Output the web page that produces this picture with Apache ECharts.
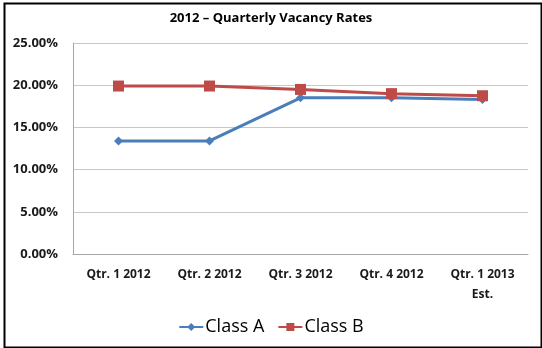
<!DOCTYPE html>
<html><head><meta charset="utf-8">
<script src="https://cdn.jsdelivr.net/npm/echarts@6/dist/echarts.min.js"></script>
<style>html,body{margin:0;padding:0;background:#fff}#c{width:542px;height:348px}</style>
</head><body><div id="c"></div>
<script>
const categories = ['Qtr. 1 2012','Qtr. 2 2012','Qtr. 3 2012','Qtr. 4 2012','Qtr. 1 2013\nEst.'];
const classA = [13.4, 13.4, 18.5, 18.5, 18.3];
const classB = [19.9, 19.9, 19.5, 19.0, 18.75];
const yTicks = [0, 5, 10, 15, 20, 25];
const font = '"Open Sans", "Noto Sans", sans-serif';
const chart = echarts.init(document.getElementById('c'), null, {renderer:'canvas'});
chart.setOption({
  animation:false,
  backgroundColor:'#fff',
  graphic:[{type:'rect',left:2,top:1,shape:{width:537,height:344},style:{fill:'none',stroke:'#000',lineWidth:2},silent:true}],
  title:{text:'2012 – Quarterly Vacancy Rates',left:'center',top:7,textStyle:{fontFamily:font,fontSize:13,fontWeight:'bold',color:'#000'}},
  grid:{left:73,right:14,top:43,bottom:94,containLabel:false},
  xAxis:{type:'category',data:categories,boundaryGap:true,
    axisLine:{lineStyle:{color:'#a6a6a6'}},axisTick:{show:false},
    axisLabel:{fontFamily:font,fontSize:12,fontWeight:'bold',color:'#1a1a1a',margin:11,lineHeight:20,interval:0}},
  yAxis:{type:'value',min:yTicks[0],max:yTicks[yTicks.length-1],interval:5,
    axisLine:{show:true,lineStyle:{color:'#a6a6a6'}},axisTick:{show:false},
    splitLine:{lineStyle:{color:'#c8c8c8'}},
    axisLabel:{fontFamily:font,fontSize:13,fontWeight:'bold',color:'#1a1a1a',margin:15,formatter:v=>v.toFixed(2)+'%'}},
  legend:{bottom:7,left:'center',itemWidth:24,itemHeight:10,itemGap:13,
    textStyle:{fontFamily:font,fontSize:18,color:'#000',padding:[0,0,0,-3]},
    data:['Class A','Class B']},
  series:[
    {name:'Class A',type:'line',data:classA,symbol:'diamond',symbolSize:9,
      lineStyle:{width:3,color:'#4a7ebb'},itemStyle:{color:'#4a7ebb'}},
    {name:'Class B',type:'line',data:classB,symbol:'rect',symbolSize:11,
      lineStyle:{width:3,color:'#be4b48'},itemStyle:{color:'#be4b48'}}
  ]
});
</script></body></html>
